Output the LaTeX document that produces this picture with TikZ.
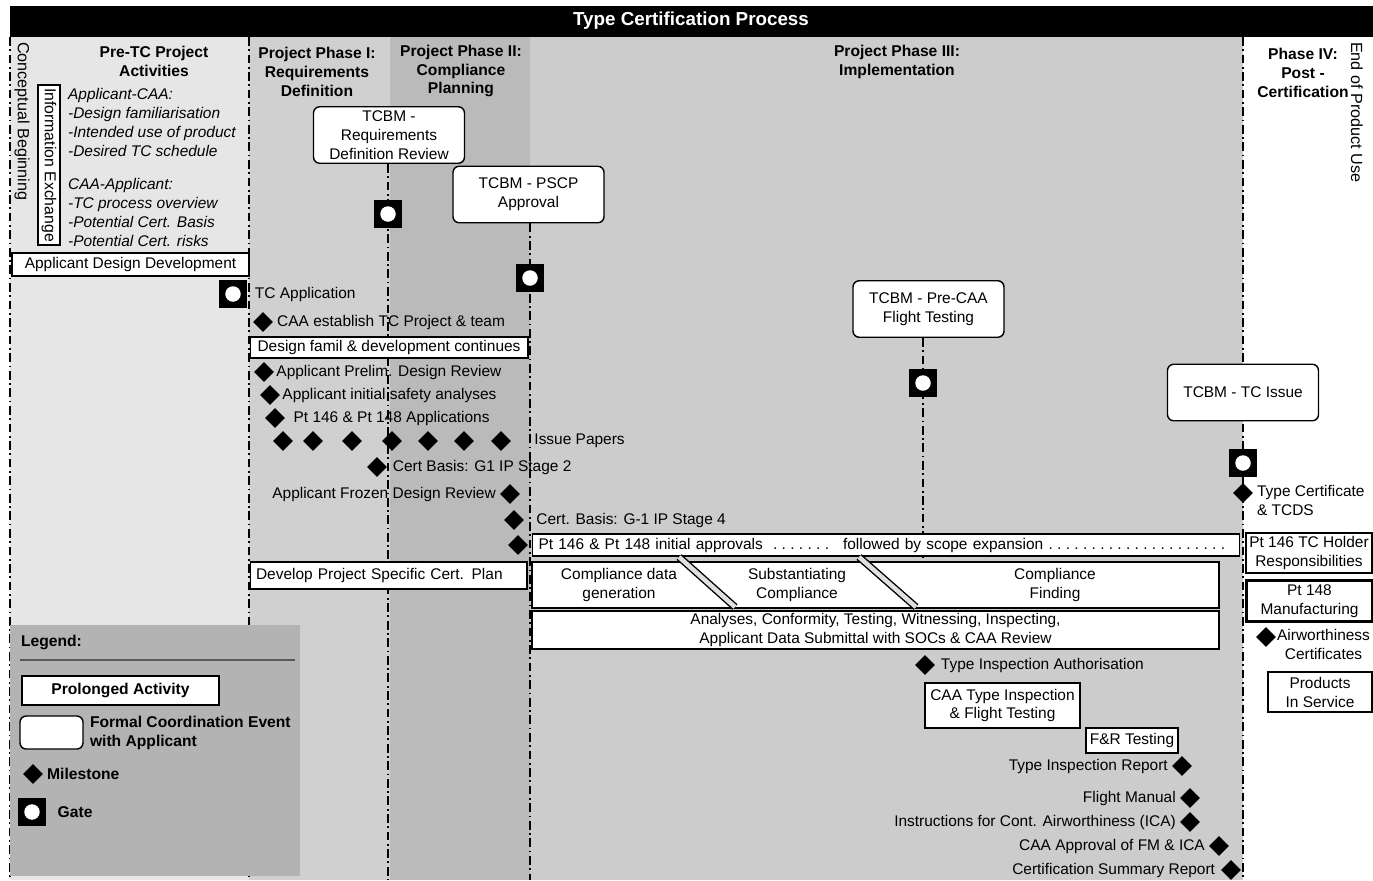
\documentclass[tikz,border=0pt]{standalone}
\usepackage{fontspec}
\setmainfont{Liberation Sans}
\usetikzlibrary{shapes.geometric,positioning,backgrounds}
\definecolor{pretcgrey}{HTML}{E6E6E6}
\definecolor{phaseIgrey}{HTML}{D0D0D0}
\definecolor{phaseIIgrey}{HTML}{BABABA}
\definecolor{phaseIIIgrey}{HTML}{CCCCCC}
\definecolor{legendgrey}{HTML}{B3B3B3}
\newcommand\dotrun{\leaders\hbox to 4.9pt{\hss.\hss}}
\tikzset{
  lbl/.style={inner sep=1pt, font=\fontsize{8.8}{10.8}\selectfont},
  hdr/.style={inner sep=1pt, align=center, font=\fontsize{8.9}{10.8}\selectfont\bfseries},
  activity/.style={lbl, draw, fill=white, line width=0.6pt, align=center},
  tcbm/.style={activity, rounded corners=3.5pt, line width=0.8pt, minimum width=3.02cm, minimum height=1.13cm},
  milestone/.style={diamond, fill=black, inner sep=0pt, minimum size=0.4cm},
  gate/.style={rectangle, fill=black, inner sep=0pt, minimum size=0.57cm,
    path picture={\fill[white] (path picture bounding box.center) circle (0.155cm);}},
  phaseline/.style={line width=1pt, dash pattern=on 5pt off 2pt on 1pt off 2pt},
  divider/.style={double=phaseIIIgrey!60, double distance=2.6pt, line width=0.8pt},
}
\begin{document}
\begin{tikzpicture}[x=0.02cm, y=-0.02cm]
\useasboundingbox (0,0) rectangle (1373,880);
\fill[black] (10,6) rectangle (1373,37); % title bar
\node[hdr, text=white, font=\fontsize{10.7}{12}\selectfont\bfseries] (title) at (691,21) {Type Certification Process};

% phase headers
\node[hdr] (hpretc) at (154,61) {Pre-TC Project\\Activities};
\node[hdr] (hphI) at (317,72) {Project Phase I:\\Requirements\\Definition};
\node[hdr] (hphII) at (461,71) {Project Phase II:\\Compliance\\Planning};
\node[hdr] (hphIII) at (897,62) {Project Phase III:\\Implementation};
\node[hdr] (hphIV) at (1303,73) {Phase IV:\\Post -\\Certification};
\node[lbl, rotate=-90, anchor=west, font=\fontsize{9.2}{11}\selectfont] (concept) at (22,40) {Conceptual Beginning};
\node[lbl, rotate=-90, anchor=west, font=\fontsize{9.2}{11}\selectfont] (eopu) at (1357,40) {End of Product Use};

% coordination meetings and gates
\node[tcbm] (rdr) at (389,135) {TCBM -\\Requirements\\Definition Review};
\node[tcbm] (pscp) at (528.5,194.5) {TCBM - PSCP\\Approval};
\node[tcbm] (precaa) at (928.5,309) {TCBM - Pre-CAA\\Flight Testing};
\node[tcbm] (tcissue) at (1243,392.5) {TCBM - TC Issue};
\node[gate] (g0) at (233,294) {};
\node[gate] (g1) at (388,214) {};
\node[gate] (g2) at (530,278) {};
\node[gate] (g3) at (923,383) {};
\node[gate] (g4) at (1243,463) {};

% pre-TC activities
\node[activity, rotate=-90, minimum width=3.2cm, minimum height=0.44cm, font=\fontsize{9}{11}\selectfont] (infox) at (49,165) {Information Exchange};
\node[lbl, align=left, anchor=north west, font=\fontsize{8.8}{10.8}\selectfont\itshape] (infolist) at (66,86)
  {Applicant-CAA:\\-Design familiarisation\\-Intended use of product\\-Desired TC schedule\\[7.9pt]CAA-Applicant:\\-TC process overview\\-Potential Cert. Basis\\-Potential Cert. risks};
\node[activity, minimum width=4.74cm, minimum height=0.46cm] (add) at (130.5,264.5) {Applicant Design Development};
\node[lbl, right=3pt of g0] (tcapp) {TC Application};

% phase I and II
\node[milestone] (m1) at (263,322) {};
\node[lbl, right=1pt of m1] (m1t) {CAA establish TC Project \& team};
\node[activity, minimum width=5.56cm, minimum height=0.42cm] (famil) at (389,347.5) {Design famil \& development continues};
\node[milestone] (m2) at (264,372) {};
\node[lbl, right=0pt of m2] (m2t) {Applicant Prelim. Design Review};
\node[milestone] (m3) at (270,395) {};
\node[lbl, right=0pt of m3] (m3t) {Applicant initial safety analyses};
\node[milestone] (m4) at (275,418) {};
\node[lbl, right=3.5pt of m4] (m4t) {Pt 146 \& Pt 148 Applications};
\foreach \x [count=\i] in {283,313,352,392,428,464,501}
  \node[milestone] (ip\i) at (\x,441) {};
\node[lbl, right=0.42cm of ip7] (iptxt) {Issue Papers};
\node[milestone] (m5) at (377,467) {};
\node[lbl, right=2pt of m5] (m5t) {Cert Basis: G1 IP Stage 2};
\node[milestone] (m6) at (510,494) {};
\node[lbl, left=1pt of m6] (m6t) {Applicant Frozen Design Review};
\node[milestone] (m7) at (514,520) {};
\node[lbl, right=0.2cm of m7] (m7t) {Cert. Basis: G-1 IP Stage 4};
\node[milestone] (m8) at (518,545) {};
\node[activity, minimum width=14.16cm, minimum height=0.44cm, text width=13.9cm, align=left] (approvals) at (886,545)
  {Pt 146 \& Pt 148 initial approvals\dotrun\hskip 1.5cm\ followed by scope expansion\dotrun\hfill\mbox{}};
\node[activity, minimum width=5.54cm, minimum height=0.54cm, text width=5.3cm, align=left] (certplan) at (388.5,575.5) {Develop Project Specific Cert. Plan};

% phase III compliance band
\node[activity, line width=1.5pt, minimum width=13.74cm, minimum height=0.92cm] (band) at (875.5,585) {};
\draw[divider] (679,557) -- (735,607);
\draw[divider] (859,557) -- (916,607);
\node[lbl, align=center] (cdg) at (619,585) {Compliance data\\generation};
\node[lbl, align=center] (sbc) at (797,585) {Substantiating\\Compliance};
\node[lbl, align=center] (cfd) at (1055,585) {Compliance\\Finding};
\node[activity, line width=1.2pt, minimum width=13.74cm, minimum height=0.76cm] (analyses) at (875.5,630)
  {Analyses, Conformity, Testing, Witnessing, Inspecting,\\Applicant Data Submittal with SOCs \& CAA Review};

% phase III type inspection
\node[milestone] (tia) at (925,665) {};
\node[lbl, right=2pt of tia] (tiat) {Type Inspection Authorisation};
\node[activity, line width=1.2pt, minimum width=3.1cm, minimum height=0.9cm] (caati) at (1002.5,705.5) {CAA Type Inspection\\\& Flight Testing};
\node[activity, minimum width=1.84cm, minimum height=0.5cm] (frt) at (1132,740.5) {F\&R Testing};
\node[milestone] (tir) at (1182,766) {};
\node[lbl, left=1pt of tir] (tirt) {Type Inspection Report};
\node[milestone] (afm) at (1190,798) {};
\node[lbl, left=1pt of afm] (afmt) {Flight Manual};
\node[milestone] (ica) at (1190,822) {};
\node[lbl, left=1pt of ica] (icat) {Instructions for Cont. Airworthiness (ICA)};
\node[milestone] (fmica) at (1219,846) {};
\node[lbl, left=1pt of fmica] (fmicat) {CAA Approval of FM \& ICA};
\node[milestone] (csr) at (1231,870) {};
\node[lbl, left=2pt of csr] (csrt) {Certification Summary Report};

% phase IV
\node[milestone] (tcds) at (1243,493) {};
\node[lbl, align=left, anchor=north west] (tcdst) at (1255,483) {Type Certificate\\\& TCDS};
\node[activity, minimum width=2.52cm, minimum height=0.8cm] (holder) at (1309,553) {Pt 146 TC Holder\\Responsibilities};
\node[activity, line width=1.5pt, minimum width=2.52cm, minimum height=0.82cm] (mfg) at (1309.5,601) {Pt 148\\Manufacturing};
\node[milestone] (awc) at (1266,637) {};
\node[lbl, align=center, anchor=north west] (awct) at (1275,627) {Airworthiness\\Certificates};
\node[activity, minimum width=2.08cm, minimum height=0.8cm] (pis) at (1320,692) {Products\\In Service};

% legend
\node[fill=legendgrey, inner sep=0pt, minimum width=5.8cm, minimum height=5.02cm] (legend) at (155,750.5) {};
\node[hdr, anchor=west] (legtitle) at (19,642) {Legend:};
\draw[line width=1pt, black!65] (20,660) -- (295,660);
\node[activity, font=\fontsize{8.9}{10.5}\selectfont\bfseries, minimum width=3.94cm, minimum height=0.58cm] (lgact) at (120.5,690.5) {Prolonged Activity};
\node[tcbm, minimum width=1.26cm, minimum height=0.66cm] (lgtcbm) at (51.5,732.5) {};
\node[hdr, align=left, right=2.4pt of lgtcbm] (lgtcbmt) {Formal Coordination Event\\with Applicant};
\node[milestone] (lgms) at (33,774) {};
\node[hdr, right=1pt of lgms] (lgmst) {Milestone};
\node[gate] (lggate) at (32,812) {};
\node[hdr, right=0.18cm of lggate] (lggatet) {Gate};

\begin{scope}[on background layer]
  \fill[white] (0,0) rectangle (1373,880);
  \fill[pretcgrey] (10,37) rectangle (249,880);
  \fill[phaseIgrey] (249,37) rectangle (390,880);
  \fill[phaseIIgrey] (390,37) rectangle (530,880);
  \fill[phaseIIIgrey] (530,37) rectangle (1243,880);
  \coordinate (bottom) at (0,880);
  \draw[phaseline] (10,37) -- (10,880);
  \draw[phaseline] (249,37) -- (249,880);
  \draw[phaseline] (g1 |- rdr.south) -- (g1 |- bottom);
  \draw[phaseline] (g2 |- pscp.south) -- (g2 |- bottom);
  \draw[phaseline] (g3 |- precaa.south) -- (g3 |- band.north);
  \draw[phaseline] (1243,37) -- (g4 |- bottom);
\end{scope}
\end{tikzpicture}
\end{document}
